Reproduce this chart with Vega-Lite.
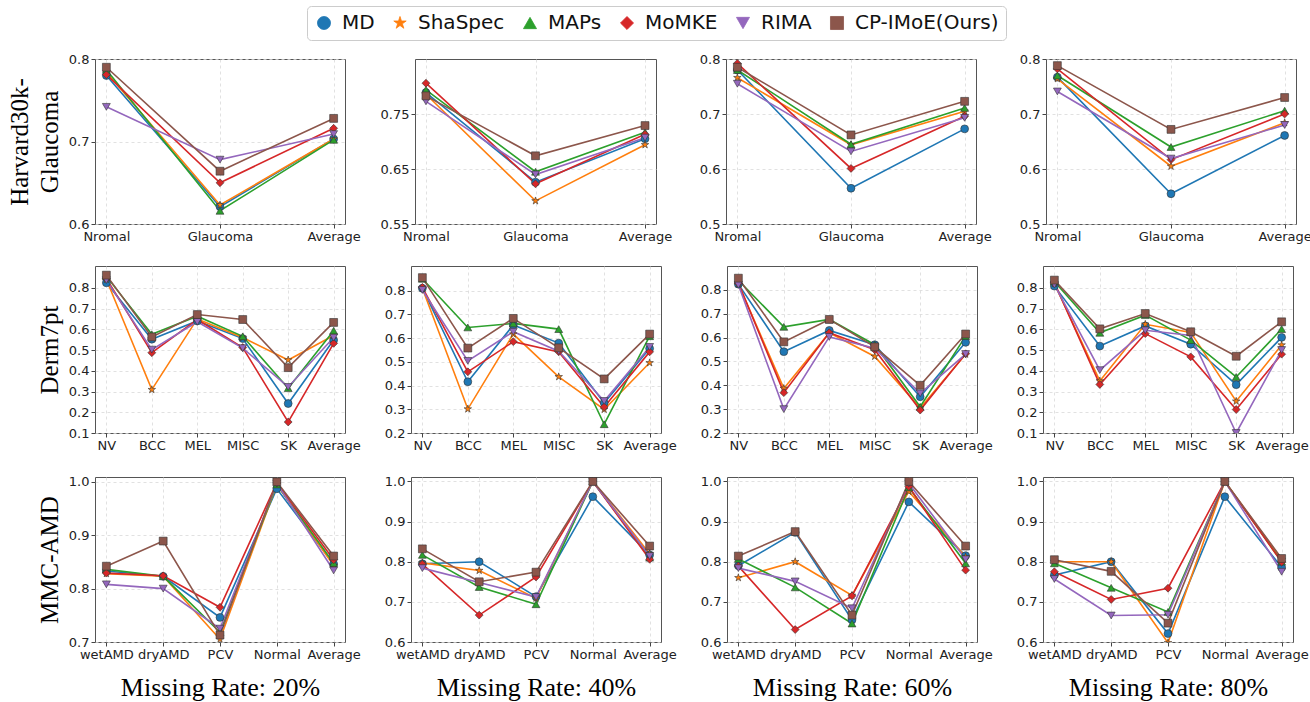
{
"$schema":"https://vega.github.io/schema/vega-lite/v6.json",
"background":"white",
"padding":{"left":6,"top":5,"right":6,"bottom":6},
"datasets":{
"H20":[
{"m":"MD","c":"Nromal","v":0.780},{"m":"MD","c":"Glaucoma","v":0.621},{"m":"MD","c":"Average","v":0.703},
{"m":"ShaSpec","c":"Nromal","v":0.784},{"m":"ShaSpec","c":"Glaucoma","v":0.623},{"m":"ShaSpec","c":"Average","v":0.703},
{"m":"MAPs","c":"Nromal","v":0.787},{"m":"MAPs","c":"Glaucoma","v":0.616},{"m":"MAPs","c":"Average","v":0.702},
{"m":"MoMKE","c":"Nromal","v":0.781},{"m":"MoMKE","c":"Glaucoma","v":0.650},{"m":"MoMKE","c":"Average","v":0.716},
{"m":"RIMA","c":"Nromal","v":0.742},{"m":"RIMA","c":"Glaucoma","v":0.678},{"m":"RIMA","c":"Average","v":0.709},
{"m":"CP-IMoE(Ours)","c":"Nromal","v":0.790},{"m":"CP-IMoE(Ours)","c":"Glaucoma","v":0.664},{"m":"CP-IMoE(Ours)","c":"Average","v":0.728}],
"H40":[
{"m":"MD","c":"Nromal","v":0.789},{"m":"MD","c":"Glaucoma","v":0.626},{"m":"MD","c":"Average","v":0.705},
{"m":"ShaSpec","c":"Nromal","v":0.786},{"m":"ShaSpec","c":"Glaucoma","v":0.592},{"m":"ShaSpec","c":"Average","v":0.694},
{"m":"MAPs","c":"Nromal","v":0.794},{"m":"MAPs","c":"Glaucoma","v":0.645},{"m":"MAPs","c":"Average","v":0.717},
{"m":"MoMKE","c":"Nromal","v":0.806},{"m":"MoMKE","c":"Glaucoma","v":0.623},{"m":"MoMKE","c":"Average","v":0.713},
{"m":"RIMA","c":"Nromal","v":0.773},{"m":"RIMA","c":"Glaucoma","v":0.640},{"m":"RIMA","c":"Average","v":0.707},
{"m":"CP-IMoE(Ours)","c":"Nromal","v":0.783},{"m":"CP-IMoE(Ours)","c":"Glaucoma","v":0.674},{"m":"CP-IMoE(Ours)","c":"Average","v":0.729}],
"H60":[
{"m":"MD","c":"Nromal","v":0.780},{"m":"MD","c":"Glaucoma","v":0.565},{"m":"MD","c":"Average","v":0.673},
{"m":"ShaSpec","c":"Nromal","v":0.766},{"m":"ShaSpec","c":"Glaucoma","v":0.644},{"m":"ShaSpec","c":"Average","v":0.705},
{"m":"MAPs","c":"Nromal","v":0.780},{"m":"MAPs","c":"Glaucoma","v":0.645},{"m":"MAPs","c":"Average","v":0.711},
{"m":"MoMKE","c":"Nromal","v":0.792},{"m":"MoMKE","c":"Glaucoma","v":0.601},{"m":"MoMKE","c":"Average","v":0.696},
{"m":"RIMA","c":"Nromal","v":0.755},{"m":"RIMA","c":"Glaucoma","v":0.632},{"m":"RIMA","c":"Average","v":0.693},
{"m":"CP-IMoE(Ours)","c":"Nromal","v":0.785},{"m":"CP-IMoE(Ours)","c":"Glaucoma","v":0.662},{"m":"CP-IMoE(Ours)","c":"Average","v":0.723}],
"H80":[
{"m":"MD","c":"Nromal","v":0.767},{"m":"MD","c":"Glaucoma","v":0.555},{"m":"MD","c":"Average","v":0.661},
{"m":"ShaSpec","c":"Nromal","v":0.764},{"m":"ShaSpec","c":"Glaucoma","v":0.605},{"m":"ShaSpec","c":"Average","v":0.684},
{"m":"MAPs","c":"Nromal","v":0.770},{"m":"MAPs","c":"Glaucoma","v":0.640},{"m":"MAPs","c":"Average","v":0.706},
{"m":"MoMKE","c":"Nromal","v":0.782},{"m":"MoMKE","c":"Glaucoma","v":0.617},{"m":"MoMKE","c":"Average","v":0.700},
{"m":"RIMA","c":"Nromal","v":0.741},{"m":"RIMA","c":"Glaucoma","v":0.619},{"m":"RIMA","c":"Average","v":0.680},
{"m":"CP-IMoE(Ours)","c":"Nromal","v":0.788},{"m":"CP-IMoE(Ours)","c":"Glaucoma","v":0.672},{"m":"CP-IMoE(Ours)","c":"Average","v":0.730}],
"D20":[
{"m":"MD","c":"NV","v":0.824},{"m":"MD","c":"BCC","v":0.552},{"m":"MD","c":"MEL","v":0.640},{"m":"MD","c":"MISC","v":0.555},{"m":"MD","c":"SK","v":0.242},{"m":"MD","c":"Average","v":0.548},
{"m":"ShaSpec","c":"NV","v":0.840},{"m":"ShaSpec","c":"BCC","v":0.309},{"m":"ShaSpec","c":"MEL","v":0.650},{"m":"ShaSpec","c":"MISC","v":0.560},{"m":"ShaSpec","c":"SK","v":0.452},{"m":"ShaSpec","c":"Average","v":0.570},
{"m":"MAPs","c":"NV","v":0.855},{"m":"MAPs","c":"BCC","v":0.576},{"m":"MAPs","c":"MEL","v":0.663},{"m":"MAPs","c":"MISC","v":0.566},{"m":"MAPs","c":"SK","v":0.316},{"m":"MAPs","c":"Average","v":0.593},
{"m":"MoMKE","c":"NV","v":0.845},{"m":"MoMKE","c":"BCC","v":0.487},{"m":"MoMKE","c":"MEL","v":0.647},{"m":"MoMKE","c":"MISC","v":0.512},{"m":"MoMKE","c":"SK","v":0.153},{"m":"MoMKE","c":"Average","v":0.532},
{"m":"RIMA","c":"NV","v":0.837},{"m":"RIMA","c":"BCC","v":0.502},{"m":"RIMA","c":"MEL","v":0.636},{"m":"RIMA","c":"MISC","v":0.509},{"m":"RIMA","c":"SK","v":0.322},{"m":"RIMA","c":"Average","v":0.560},
{"m":"CP-IMoE(Ours)","c":"NV","v":0.861},{"m":"CP-IMoE(Ours)","c":"BCC","v":0.563},{"m":"CP-IMoE(Ours)","c":"MEL","v":0.671},{"m":"CP-IMoE(Ours)","c":"MISC","v":0.647},{"m":"CP-IMoE(Ours)","c":"SK","v":0.415},{"m":"CP-IMoE(Ours)","c":"Average","v":0.633}],
"D40":[
{"m":"MD","c":"NV","v":0.810},{"m":"MD","c":"BCC","v":0.416},{"m":"MD","c":"MEL","v":0.655},{"m":"MD","c":"MISC","v":0.579},{"m":"MD","c":"SK","v":0.327},{"m":"MD","c":"Average","v":0.556},
{"m":"ShaSpec","c":"NV","v":0.810},{"m":"ShaSpec","c":"BCC","v":0.301},{"m":"ShaSpec","c":"MEL","v":0.617},{"m":"ShaSpec","c":"MISC","v":0.437},{"m":"ShaSpec","c":"SK","v":0.299},{"m":"ShaSpec","c":"Average","v":0.496},
{"m":"MAPs","c":"NV","v":0.850},{"m":"MAPs","c":"BCC","v":0.645},{"m":"MAPs","c":"MEL","v":0.662},{"m":"MAPs","c":"MISC","v":0.638},{"m":"MAPs","c":"SK","v":0.237},{"m":"MAPs","c":"Average","v":0.608},
{"m":"MoMKE","c":"NV","v":0.814},{"m":"MoMKE","c":"BCC","v":0.458},{"m":"MoMKE","c":"MEL","v":0.585},{"m":"MoMKE","c":"MISC","v":0.542},{"m":"MoMKE","c":"SK","v":0.310},{"m":"MoMKE","c":"Average","v":0.542},
{"m":"RIMA","c":"NV","v":0.803},{"m":"RIMA","c":"BCC","v":0.504},{"m":"RIMA","c":"MEL","v":0.627},{"m":"RIMA","c":"MISC","v":0.545},{"m":"RIMA","c":"SK","v":0.335},{"m":"RIMA","c":"Average","v":0.563},
{"m":"CP-IMoE(Ours)","c":"NV","v":0.855},{"m":"CP-IMoE(Ours)","c":"BCC","v":0.558},{"m":"CP-IMoE(Ours)","c":"MEL","v":0.683},{"m":"CP-IMoE(Ours)","c":"MISC","v":0.559},{"m":"CP-IMoE(Ours)","c":"SK","v":0.428},{"m":"CP-IMoE(Ours)","c":"Average","v":0.617}],
"D60":[
{"m":"MD","c":"NV","v":0.824},{"m":"MD","c":"BCC","v":0.541},{"m":"MD","c":"MEL","v":0.630},{"m":"MD","c":"MISC","v":0.570},{"m":"MD","c":"SK","v":0.352},{"m":"MD","c":"Average","v":0.580},
{"m":"ShaSpec","c":"NV","v":0.825},{"m":"ShaSpec","c":"BCC","v":0.387},{"m":"ShaSpec","c":"MEL","v":0.620},{"m":"ShaSpec","c":"MISC","v":0.521},{"m":"ShaSpec","c":"SK","v":0.305},{"m":"ShaSpec","c":"Average","v":0.530},
{"m":"MAPs","c":"NV","v":0.840},{"m":"MAPs","c":"BCC","v":0.645},{"m":"MAPs","c":"MEL","v":0.676},{"m":"MAPs","c":"MISC","v":0.570},{"m":"MAPs","c":"SK","v":0.310},{"m":"MAPs","c":"Average","v":0.606},
{"m":"MoMKE","c":"NV","v":0.828},{"m":"MoMKE","c":"BCC","v":0.369},{"m":"MoMKE","c":"MEL","v":0.620},{"m":"MoMKE","c":"MISC","v":0.549},{"m":"MoMKE","c":"SK","v":0.296},{"m":"MoMKE","c":"Average","v":0.532},
{"m":"RIMA","c":"NV","v":0.821},{"m":"RIMA","c":"BCC","v":0.300},{"m":"RIMA","c":"MEL","v":0.603},{"m":"RIMA","c":"MISC","v":0.555},{"m":"RIMA","c":"SK","v":0.366},{"m":"RIMA","c":"Average","v":0.531},
{"m":"CP-IMoE(Ours)","c":"NV","v":0.849},{"m":"CP-IMoE(Ours)","c":"BCC","v":0.582},{"m":"CP-IMoE(Ours)","c":"MEL","v":0.676},{"m":"CP-IMoE(Ours)","c":"MISC","v":0.561},{"m":"CP-IMoE(Ours)","c":"SK","v":0.400},{"m":"CP-IMoE(Ours)","c":"Average","v":0.615}],
"D80":[
{"m":"MD","c":"NV","v":0.808},{"m":"MD","c":"BCC","v":0.519},{"m":"MD","c":"MEL","v":0.616},{"m":"MD","c":"MISC","v":0.528},{"m":"MD","c":"SK","v":0.333},{"m":"MD","c":"Average","v":0.561},
{"m":"ShaSpec","c":"NV","v":0.820},{"m":"ShaSpec","c":"BCC","v":0.351},{"m":"ShaSpec","c":"MEL","v":0.624},{"m":"ShaSpec","c":"MISC","v":0.585},{"m":"ShaSpec","c":"SK","v":0.253},{"m":"ShaSpec","c":"Average","v":0.524},
{"m":"MAPs","c":"NV","v":0.830},{"m":"MAPs","c":"BCC","v":0.583},{"m":"MAPs","c":"MEL","v":0.668},{"m":"MAPs","c":"MISC","v":0.548},{"m":"MAPs","c":"SK","v":0.370},{"m":"MAPs","c":"Average","v":0.601},
{"m":"MoMKE","c":"NV","v":0.825},{"m":"MoMKE","c":"BCC","v":0.334},{"m":"MoMKE","c":"MEL","v":0.579},{"m":"MoMKE","c":"MISC","v":0.467},{"m":"MoMKE","c":"SK","v":0.213},{"m":"MoMKE","c":"Average","v":0.480},
{"m":"RIMA","c":"NV","v":0.815},{"m":"RIMA","c":"BCC","v":0.403},{"m":"RIMA","c":"MEL","v":0.595},{"m":"RIMA","c":"MISC","v":0.570},{"m":"RIMA","c":"SK","v":0.100},{"m":"RIMA","c":"Average","v":0.500},
{"m":"CP-IMoE(Ours)","c":"NV","v":0.837},{"m":"CP-IMoE(Ours)","c":"BCC","v":0.602},{"m":"CP-IMoE(Ours)","c":"MEL","v":0.676},{"m":"CP-IMoE(Ours)","c":"MISC","v":0.588},{"m":"CP-IMoE(Ours)","c":"SK","v":0.470},{"m":"CP-IMoE(Ours)","c":"Average","v":0.636}],
"M20":[
{"m":"MD","c":"wetAMD","v":0.833},{"m":"MD","c":"dryAMD","v":0.823},{"m":"MD","c":"PCV","v":0.746},{"m":"MD","c":"Normal","v":0.987},{"m":"MD","c":"Average","v":0.846},
{"m":"ShaSpec","c":"wetAMD","v":0.828},{"m":"ShaSpec","c":"dryAMD","v":0.823},{"m":"ShaSpec","c":"PCV","v":0.705},{"m":"ShaSpec","c":"Normal","v":0.995},{"m":"ShaSpec","c":"Average","v":0.843},
{"m":"MAPs","c":"wetAMD","v":0.836},{"m":"MAPs","c":"dryAMD","v":0.823},{"m":"MAPs","c":"PCV","v":0.718},{"m":"MAPs","c":"Normal","v":0.995},{"m":"MAPs","c":"Average","v":0.848},
{"m":"MoMKE","c":"wetAMD","v":0.829},{"m":"MoMKE","c":"dryAMD","v":0.824},{"m":"MoMKE","c":"PCV","v":0.765},{"m":"MoMKE","c":"Normal","v":0.998},{"m":"MoMKE","c":"Average","v":0.854},
{"m":"RIMA","c":"wetAMD","v":0.808},{"m":"RIMA","c":"dryAMD","v":0.800},{"m":"RIMA","c":"PCV","v":0.725},{"m":"RIMA","c":"Normal","v":0.997},{"m":"RIMA","c":"Average","v":0.834},
{"m":"CP-IMoE(Ours)","c":"wetAMD","v":0.842},{"m":"CP-IMoE(Ours)","c":"dryAMD","v":0.889},{"m":"CP-IMoE(Ours)","c":"PCV","v":0.713},{"m":"CP-IMoE(Ours)","c":"Normal","v":1.0},{"m":"CP-IMoE(Ours)","c":"Average","v":0.861}],
"M40":[
{"m":"MD","c":"wetAMD","v":0.795},{"m":"MD","c":"dryAMD","v":0.800},{"m":"MD","c":"PCV","v":0.713},{"m":"MD","c":"Normal","v":0.962},{"m":"MD","c":"Average","v":0.817},
{"m":"ShaSpec","c":"wetAMD","v":0.797},{"m":"ShaSpec","c":"dryAMD","v":0.778},{"m":"ShaSpec","c":"PCV","v":0.709},{"m":"ShaSpec","c":"Normal","v":1.0},{"m":"ShaSpec","c":"Average","v":0.820},
{"m":"MAPs","c":"wetAMD","v":0.817},{"m":"MAPs","c":"dryAMD","v":0.737},{"m":"MAPs","c":"PCV","v":0.694},{"m":"MAPs","c":"Normal","v":1.0},{"m":"MAPs","c":"Average","v":0.810},
{"m":"MoMKE","c":"wetAMD","v":0.794},{"m":"MoMKE","c":"dryAMD","v":0.667},{"m":"MoMKE","c":"PCV","v":0.762},{"m":"MoMKE","c":"Normal","v":1.0},{"m":"MoMKE","c":"Average","v":0.806},
{"m":"RIMA","c":"wetAMD","v":0.784},{"m":"RIMA","c":"dryAMD","v":0.748},{"m":"RIMA","c":"PCV","v":0.712},{"m":"RIMA","c":"Normal","v":1.0},{"m":"RIMA","c":"Average","v":0.814},
{"m":"CP-IMoE(Ours)","c":"wetAMD","v":0.832},{"m":"CP-IMoE(Ours)","c":"dryAMD","v":0.750},{"m":"CP-IMoE(Ours)","c":"PCV","v":0.774},{"m":"CP-IMoE(Ours)","c":"Normal","v":1.0},{"m":"CP-IMoE(Ours)","c":"Average","v":0.839}],
"M60":[
{"m":"MD","c":"wetAMD","v":0.790},{"m":"MD","c":"dryAMD","v":0.873},{"m":"MD","c":"PCV","v":0.655},{"m":"MD","c":"Normal","v":0.949},{"m":"MD","c":"Average","v":0.815},
{"m":"ShaSpec","c":"wetAMD","v":0.760},{"m":"ShaSpec","c":"dryAMD","v":0.800},{"m":"ShaSpec","c":"PCV","v":0.716},{"m":"ShaSpec","c":"Normal","v":0.975},{"m":"ShaSpec","c":"Average","v":0.812},
{"m":"MAPs","c":"wetAMD","v":0.807},{"m":"MAPs","c":"dryAMD","v":0.736},{"m":"MAPs","c":"PCV","v":0.646},{"m":"MAPs","c":"Normal","v":0.985},{"m":"MAPs","c":"Average","v":0.796},
{"m":"MoMKE","c":"wetAMD","v":0.789},{"m":"MoMKE","c":"dryAMD","v":0.631},{"m":"MoMKE","c":"PCV","v":0.715},{"m":"MoMKE","c":"Normal","v":0.987},{"m":"MoMKE","c":"Average","v":0.779},
{"m":"RIMA","c":"wetAMD","v":0.784},{"m":"RIMA","c":"dryAMD","v":0.751},{"m":"RIMA","c":"PCV","v":0.684},{"m":"RIMA","c":"Normal","v":0.995},{"m":"RIMA","c":"Average","v":0.806},
{"m":"CP-IMoE(Ours)","c":"wetAMD","v":0.814},{"m":"CP-IMoE(Ours)","c":"dryAMD","v":0.875},{"m":"CP-IMoE(Ours)","c":"PCV","v":0.667},{"m":"CP-IMoE(Ours)","c":"Normal","v":1.0},{"m":"CP-IMoE(Ours)","c":"Average","v":0.839}],
"M80":[
{"m":"MD","c":"wetAMD","v":0.767},{"m":"MD","c":"dryAMD","v":0.800},{"m":"MD","c":"PCV","v":0.621},{"m":"MD","c":"Normal","v":0.962},{"m":"MD","c":"Average","v":0.786},
{"m":"ShaSpec","c":"wetAMD","v":0.800},{"m":"ShaSpec","c":"dryAMD","v":0.800},{"m":"ShaSpec","c":"PCV","v":0.598},{"m":"ShaSpec","c":"Normal","v":1.0},{"m":"ShaSpec","c":"Average","v":0.805},
{"m":"MAPs","c":"wetAMD","v":0.796},{"m":"MAPs","c":"dryAMD","v":0.735},{"m":"MAPs","c":"PCV","v":0.675},{"m":"MAPs","c":"Normal","v":1.0},{"m":"MAPs","c":"Average","v":0.800},
{"m":"MoMKE","c":"wetAMD","v":0.775},{"m":"MoMKE","c":"dryAMD","v":0.706},{"m":"MoMKE","c":"PCV","v":0.734},{"m":"MoMKE","c":"Normal","v":1.0},{"m":"MoMKE","c":"Average","v":0.799},
{"m":"RIMA","c":"wetAMD","v":0.757},{"m":"RIMA","c":"dryAMD","v":0.666},{"m":"RIMA","c":"PCV","v":0.668},{"m":"RIMA","c":"Normal","v":1.0},{"m":"RIMA","c":"Average","v":0.775},
{"m":"CP-IMoE(Ours)","c":"wetAMD","v":0.805},{"m":"CP-IMoE(Ours)","c":"dryAMD","v":0.776},{"m":"CP-IMoE(Ours)","c":"PCV","v":0.647},{"m":"CP-IMoE(Ours)","c":"Normal","v":1.0},{"m":"CP-IMoE(Ours)","c":"Average","v":0.808}]
},
"spacing":21,
"vconcat":[
{"bounds":"flush","spacing":70,"hconcat":[
{"width":250,"height":165,"data":{"name":"H20"},
"encoding":{"x":{"field":"c","type":"ordinal","sort":["Nromal","Glaucoma","Average"],"scale":{"type":"point","padding":0.1},"axis":{"title":null}},
"y":{"field":"v","type":"quantitative","scale":{"domain":[0.6,0.8],"nice":false,"zero":false},"axis":{"values":[0.6,0.7,0.8],"format":".1f","title":["Harvard30k-","Glaucoma"]}},
"color":{"field":"m","type":"nominal","scale":{"domain":["MD","ShaSpec","MAPs","MoMKE","RIMA","CP-IMoE(Ours)"],"range":["#1f77b4","#ff7f0e","#2ca02c","#d62728","#9467bd","#8c564b"]},"legend":{"title":null}}},
"layer":[{"mark":{"type":"line","strokeWidth":1.6,"clip":true},"encoding":{"order":{"value":null}}},
{"mark":{"type":"point","filled":true,"size":62,"stroke":"#333","strokeWidth":0.6,"opacity":1,"clip":true},"encoding":{"shape":{"field":"m","type":"nominal","scale":{"domain":["MD","ShaSpec","MAPs","MoMKE","RIMA","CP-IMoE(Ours)"],"range":["circle","M0,-1L0.225,-0.309L0.951,-0.309L0.363,0.118L0.588,0.809L0,0.382L-0.588,0.809L-0.363,0.118L-0.951,-0.309L-0.225,-0.309Z","triangle-up","diamond","triangle-down","square"]},"legend":{"title":null}}}}]},
{"width":241,"height":165,"data":{"name":"H40"},
"encoding":{"x":{"field":"c","type":"ordinal","sort":["Nromal","Glaucoma","Average"],"scale":{"type":"point","padding":0.1},"axis":{"title":null}},
"y":{"field":"v","type":"quantitative","scale":{"domain":[0.55,0.85],"nice":false,"zero":false},"axis":{"values":[0.55,0.65,0.75],"format":".2f","title":null}},
"color":{"field":"m","type":"nominal","scale":{"domain":["MD","ShaSpec","MAPs","MoMKE","RIMA","CP-IMoE(Ours)"],"range":["#1f77b4","#ff7f0e","#2ca02c","#d62728","#9467bd","#8c564b"]},"legend":{"title":null}}},
"layer":[{"mark":{"type":"line","strokeWidth":1.6,"clip":true},"encoding":{"order":{"value":null}}},
{"mark":{"type":"point","filled":true,"size":62,"stroke":"#333","strokeWidth":0.6,"opacity":1,"clip":true},"encoding":{"shape":{"field":"m","type":"nominal","scale":{"domain":["MD","ShaSpec","MAPs","MoMKE","RIMA","CP-IMoE(Ours)"],"range":["circle","M0,-1L0.225,-0.309L0.951,-0.309L0.363,0.118L0.588,0.809L0,0.382L-0.588,0.809L-0.363,0.118L-0.951,-0.309L-0.225,-0.309Z","triangle-up","diamond","triangle-down","square"]},"legend":{"title":null}}}}]},
{"width":250,"height":165,"data":{"name":"H60"},
"encoding":{"x":{"field":"c","type":"ordinal","sort":["Nromal","Glaucoma","Average"],"scale":{"type":"point","padding":0.1},"axis":{"title":null}},
"y":{"field":"v","type":"quantitative","scale":{"domain":[0.5,0.8],"nice":false,"zero":false},"axis":{"values":[0.5,0.6,0.7,0.8],"format":".1f","title":null}},
"color":{"field":"m","type":"nominal","scale":{"domain":["MD","ShaSpec","MAPs","MoMKE","RIMA","CP-IMoE(Ours)"],"range":["#1f77b4","#ff7f0e","#2ca02c","#d62728","#9467bd","#8c564b"]},"legend":{"title":null}}},
"layer":[{"mark":{"type":"line","strokeWidth":1.6,"clip":true},"encoding":{"order":{"value":null}}},
{"mark":{"type":"point","filled":true,"size":62,"stroke":"#333","strokeWidth":0.6,"opacity":1,"clip":true},"encoding":{"shape":{"field":"m","type":"nominal","scale":{"domain":["MD","ShaSpec","MAPs","MoMKE","RIMA","CP-IMoE(Ours)"],"range":["circle","M0,-1L0.225,-0.309L0.951,-0.309L0.363,0.118L0.588,0.809L0,0.382L-0.588,0.809L-0.363,0.118L-0.951,-0.309L-0.225,-0.309Z","triangle-up","diamond","triangle-down","square"]},"legend":{"title":null}}}}]},
{"width":250,"height":165,"data":{"name":"H80"},
"encoding":{"x":{"field":"c","type":"ordinal","sort":["Nromal","Glaucoma","Average"],"scale":{"type":"point","padding":0.1},"axis":{"title":null}},
"y":{"field":"v","type":"quantitative","scale":{"domain":[0.5,0.8],"nice":false,"zero":false},"axis":{"values":[0.5,0.6,0.7,0.8],"format":".1f","title":null}},
"color":{"field":"m","type":"nominal","scale":{"domain":["MD","ShaSpec","MAPs","MoMKE","RIMA","CP-IMoE(Ours)"],"range":["#1f77b4","#ff7f0e","#2ca02c","#d62728","#9467bd","#8c564b"]},"legend":{"title":null}}},
"layer":[{"mark":{"type":"line","strokeWidth":1.6,"clip":true},"encoding":{"order":{"value":null}}},
{"mark":{"type":"point","filled":true,"size":62,"stroke":"#333","strokeWidth":0.6,"opacity":1,"clip":true},"encoding":{"shape":{"field":"m","type":"nominal","scale":{"domain":["MD","ShaSpec","MAPs","MoMKE","RIMA","CP-IMoE(Ours)"],"range":["circle","M0,-1L0.225,-0.309L0.951,-0.309L0.363,0.118L0.588,0.809L0,0.382L-0.588,0.809L-0.363,0.118L-0.951,-0.309L-0.225,-0.309Z","triangle-up","diamond","triangle-down","square"]},"legend":{"title":null}}}}]}
]},
{"bounds":"flush","spacing":66,"hconcat":[
{"width":250,"height":167,"data":{"name":"D20"},
"encoding":{"x":{"field":"c","type":"ordinal","sort":["NV","BCC","MEL","MISC","SK","Average"],"scale":{"type":"point","padding":0.25},"axis":{"title":null}},
"y":{"field":"v","type":"quantitative","scale":{"domain":[0.1,0.905],"nice":false,"zero":false},"axis":{"values":[0.1,0.2,0.3,0.4,0.5,0.6,0.7,0.8],"format":".1f","title":"Derm7pt"}},
"color":{"field":"m","type":"nominal","scale":{"domain":["MD","ShaSpec","MAPs","MoMKE","RIMA","CP-IMoE(Ours)"],"range":["#1f77b4","#ff7f0e","#2ca02c","#d62728","#9467bd","#8c564b"]},"legend":{"title":null}}},
"layer":[{"mark":{"type":"line","strokeWidth":1.6,"clip":true},"encoding":{"order":{"value":null}}},
{"mark":{"type":"point","filled":true,"size":62,"stroke":"#333","strokeWidth":0.6,"opacity":1,"clip":true},"encoding":{"shape":{"field":"m","type":"nominal","scale":{"domain":["MD","ShaSpec","MAPs","MoMKE","RIMA","CP-IMoE(Ours)"],"range":["circle","M0,-1L0.225,-0.309L0.951,-0.309L0.363,0.118L0.588,0.809L0,0.382L-0.588,0.809L-0.363,0.118L-0.951,-0.309L-0.225,-0.309Z","triangle-up","diamond","triangle-down","square"]},"legend":{"title":null}}}}]},
{"width":250,"height":167,"data":{"name":"D40"},
"encoding":{"x":{"field":"c","type":"ordinal","sort":["NV","BCC","MEL","MISC","SK","Average"],"scale":{"type":"point","padding":0.25},"axis":{"title":null}},
"y":{"field":"v","type":"quantitative","scale":{"domain":[0.2,0.904],"nice":false,"zero":false},"axis":{"values":[0.2,0.3,0.4,0.5,0.6,0.7,0.8],"format":".1f","title":null}},
"color":{"field":"m","type":"nominal","scale":{"domain":["MD","ShaSpec","MAPs","MoMKE","RIMA","CP-IMoE(Ours)"],"range":["#1f77b4","#ff7f0e","#2ca02c","#d62728","#9467bd","#8c564b"]},"legend":{"title":null}}},
"layer":[{"mark":{"type":"line","strokeWidth":1.6,"clip":true},"encoding":{"order":{"value":null}}},
{"mark":{"type":"point","filled":true,"size":62,"stroke":"#333","strokeWidth":0.6,"opacity":1,"clip":true},"encoding":{"shape":{"field":"m","type":"nominal","scale":{"domain":["MD","ShaSpec","MAPs","MoMKE","RIMA","CP-IMoE(Ours)"],"range":["circle","M0,-1L0.225,-0.309L0.951,-0.309L0.363,0.118L0.588,0.809L0,0.382L-0.588,0.809L-0.363,0.118L-0.951,-0.309L-0.225,-0.309Z","triangle-up","diamond","triangle-down","square"]},"legend":{"title":null}}}}]},
{"width":250,"height":167,"data":{"name":"D60"},
"encoding":{"x":{"field":"c","type":"ordinal","sort":["NV","BCC","MEL","MISC","SK","Average"],"scale":{"type":"point","padding":0.25},"axis":{"title":null}},
"y":{"field":"v","type":"quantitative","scale":{"domain":[0.2,0.9],"nice":false,"zero":false},"axis":{"values":[0.2,0.3,0.4,0.5,0.6,0.7,0.8],"format":".1f","title":null}},
"color":{"field":"m","type":"nominal","scale":{"domain":["MD","ShaSpec","MAPs","MoMKE","RIMA","CP-IMoE(Ours)"],"range":["#1f77b4","#ff7f0e","#2ca02c","#d62728","#9467bd","#8c564b"]},"legend":{"title":null}}},
"layer":[{"mark":{"type":"line","strokeWidth":1.6,"clip":true},"encoding":{"order":{"value":null}}},
{"mark":{"type":"point","filled":true,"size":62,"stroke":"#333","strokeWidth":0.6,"opacity":1,"clip":true},"encoding":{"shape":{"field":"m","type":"nominal","scale":{"domain":["MD","ShaSpec","MAPs","MoMKE","RIMA","CP-IMoE(Ours)"],"range":["circle","M0,-1L0.225,-0.309L0.951,-0.309L0.363,0.118L0.588,0.809L0,0.382L-0.588,0.809L-0.363,0.118L-0.951,-0.309L-0.225,-0.309Z","triangle-up","diamond","triangle-down","square"]},"legend":{"title":null}}}}]},
{"width":250,"height":167,"data":{"name":"D80"},
"encoding":{"x":{"field":"c","type":"ordinal","sort":["NV","BCC","MEL","MISC","SK","Average"],"scale":{"type":"point","padding":0.25},"axis":{"title":null}},
"y":{"field":"v","type":"quantitative","scale":{"domain":[0.1,0.905],"nice":false,"zero":false},"axis":{"values":[0.1,0.2,0.3,0.4,0.5,0.6,0.7,0.8],"format":".1f","title":null}},
"color":{"field":"m","type":"nominal","scale":{"domain":["MD","ShaSpec","MAPs","MoMKE","RIMA","CP-IMoE(Ours)"],"range":["#1f77b4","#ff7f0e","#2ca02c","#d62728","#9467bd","#8c564b"]},"legend":{"title":null}}},
"layer":[{"mark":{"type":"line","strokeWidth":1.6,"clip":true},"encoding":{"order":{"value":null}}},
{"mark":{"type":"point","filled":true,"size":62,"stroke":"#333","strokeWidth":0.6,"opacity":1,"clip":true},"encoding":{"shape":{"field":"m","type":"nominal","scale":{"domain":["MD","ShaSpec","MAPs","MoMKE","RIMA","CP-IMoE(Ours)"],"range":["circle","M0,-1L0.225,-0.309L0.951,-0.309L0.363,0.118L0.588,0.809L0,0.382L-0.588,0.809L-0.363,0.118L-0.951,-0.309L-0.225,-0.309Z","triangle-up","diamond","triangle-down","square"]},"legend":{"title":null}}}}]}
]},
{"bounds":"flush","spacing":66,"hconcat":[
{"width":250,"height":165,"data":{"name":"M20"},
"encoding":{"x":{"field":"c","type":"ordinal","sort":["wetAMD","dryAMD","PCV","Normal","Average"],"scale":{"type":"point","padding":0.2},"axis":{"title":"Missing Rate: 20%"}},
"y":{"field":"v","type":"quantitative","scale":{"domain":[0.7,1.009],"nice":false,"zero":false},"axis":{"values":[0.7,0.8,0.9,1.0],"format":".1f","title":"MMC-AMD"}},
"color":{"field":"m","type":"nominal","scale":{"domain":["MD","ShaSpec","MAPs","MoMKE","RIMA","CP-IMoE(Ours)"],"range":["#1f77b4","#ff7f0e","#2ca02c","#d62728","#9467bd","#8c564b"]},"legend":{"title":null}}},
"layer":[{"mark":{"type":"line","strokeWidth":1.6,"clip":true},"encoding":{"order":{"value":null}}},
{"mark":{"type":"point","filled":true,"size":62,"stroke":"#333","strokeWidth":0.6,"opacity":1,"clip":true},"encoding":{"shape":{"field":"m","type":"nominal","scale":{"domain":["MD","ShaSpec","MAPs","MoMKE","RIMA","CP-IMoE(Ours)"],"range":["circle","M0,-1L0.225,-0.309L0.951,-0.309L0.363,0.118L0.588,0.809L0,0.382L-0.588,0.809L-0.363,0.118L-0.951,-0.309L-0.225,-0.309Z","triangle-up","diamond","triangle-down","square"]},"legend":{"title":null}}}}]},
{"width":250,"height":165,"data":{"name":"M40"},
"encoding":{"x":{"field":"c","type":"ordinal","sort":["wetAMD","dryAMD","PCV","Normal","Average"],"scale":{"type":"point","padding":0.2},"axis":{"title":"Missing Rate: 40%"}},
"y":{"field":"v","type":"quantitative","scale":{"domain":[0.6,1.011],"nice":false,"zero":false},"axis":{"values":[0.6,0.7,0.8,0.9,1.0],"format":".1f","title":null}},
"color":{"field":"m","type":"nominal","scale":{"domain":["MD","ShaSpec","MAPs","MoMKE","RIMA","CP-IMoE(Ours)"],"range":["#1f77b4","#ff7f0e","#2ca02c","#d62728","#9467bd","#8c564b"]},"legend":{"title":null}}},
"layer":[{"mark":{"type":"line","strokeWidth":1.6,"clip":true},"encoding":{"order":{"value":null}}},
{"mark":{"type":"point","filled":true,"size":62,"stroke":"#333","strokeWidth":0.6,"opacity":1,"clip":true},"encoding":{"shape":{"field":"m","type":"nominal","scale":{"domain":["MD","ShaSpec","MAPs","MoMKE","RIMA","CP-IMoE(Ours)"],"range":["circle","M0,-1L0.225,-0.309L0.951,-0.309L0.363,0.118L0.588,0.809L0,0.382L-0.588,0.809L-0.363,0.118L-0.951,-0.309L-0.225,-0.309Z","triangle-up","diamond","triangle-down","square"]},"legend":{"title":null}}}}]},
{"width":250,"height":165,"data":{"name":"M60"},
"encoding":{"x":{"field":"c","type":"ordinal","sort":["wetAMD","dryAMD","PCV","Normal","Average"],"scale":{"type":"point","padding":0.2},"axis":{"title":"Missing Rate: 60%"}},
"y":{"field":"v","type":"quantitative","scale":{"domain":[0.6,1.011],"nice":false,"zero":false},"axis":{"values":[0.6,0.7,0.8,0.9,1.0],"format":".1f","title":null}},
"color":{"field":"m","type":"nominal","scale":{"domain":["MD","ShaSpec","MAPs","MoMKE","RIMA","CP-IMoE(Ours)"],"range":["#1f77b4","#ff7f0e","#2ca02c","#d62728","#9467bd","#8c564b"]},"legend":{"title":null}}},
"layer":[{"mark":{"type":"line","strokeWidth":1.6,"clip":true},"encoding":{"order":{"value":null}}},
{"mark":{"type":"point","filled":true,"size":62,"stroke":"#333","strokeWidth":0.6,"opacity":1,"clip":true},"encoding":{"shape":{"field":"m","type":"nominal","scale":{"domain":["MD","ShaSpec","MAPs","MoMKE","RIMA","CP-IMoE(Ours)"],"range":["circle","M0,-1L0.225,-0.309L0.951,-0.309L0.363,0.118L0.588,0.809L0,0.382L-0.588,0.809L-0.363,0.118L-0.951,-0.309L-0.225,-0.309Z","triangle-up","diamond","triangle-down","square"]},"legend":{"title":null}}}}]},
{"width":250,"height":165,"data":{"name":"M80"},
"encoding":{"x":{"field":"c","type":"ordinal","sort":["wetAMD","dryAMD","PCV","Normal","Average"],"scale":{"type":"point","padding":0.2},"axis":{"title":"Missing Rate: 80%"}},
"y":{"field":"v","type":"quantitative","scale":{"domain":[0.6,1.011],"nice":false,"zero":false},"axis":{"values":[0.6,0.7,0.8,0.9,1.0],"format":".1f","title":null}},
"color":{"field":"m","type":"nominal","scale":{"domain":["MD","ShaSpec","MAPs","MoMKE","RIMA","CP-IMoE(Ours)"],"range":["#1f77b4","#ff7f0e","#2ca02c","#d62728","#9467bd","#8c564b"]},"legend":{"title":null}}},
"layer":[{"mark":{"type":"line","strokeWidth":1.6,"clip":true},"encoding":{"order":{"value":null}}},
{"mark":{"type":"point","filled":true,"size":62,"stroke":"#333","strokeWidth":0.6,"opacity":1,"clip":true},"encoding":{"shape":{"field":"m","type":"nominal","scale":{"domain":["MD","ShaSpec","MAPs","MoMKE","RIMA","CP-IMoE(Ours)"],"range":["circle","M0,-1L0.225,-0.309L0.951,-0.309L0.363,0.118L0.588,0.809L0,0.382L-0.588,0.809L-0.363,0.118L-0.951,-0.309L-0.225,-0.309Z","triangle-up","diamond","triangle-down","square"]},"legend":{"title":null}}}}]}
]}
],
"config":{
"view":{"stroke":"#555","strokeWidth":1},
"axis":{"labelFont":"DejaVu Sans","labelFontSize":13,"labelColor":"#222","tickColor":"#444","tickSize":4,"domain":false,"grid":true,"gridColor":"#d9d9d9","gridDash":[3,3],"gridWidth":0.8,"titleFont":"Liberation Serif","titleFontSize":25,"titleFontWeight":"normal","titleColor":"#000","labelOverlap":false},
"axisX":{"labelAngle":0,"labelPadding":2,"titleFontSize":26,"titlePadding":13},
"axisY":{"labelFontSize":13,"titleLineHeight":30,"titlePadding":6},
"legend":{"orient":"none","legendX":212,"legendY":-53,"direction":"horizontal","columns":6,"labelFont":"DejaVu Sans","labelFontSize":20,"labelColor":"#111","symbolSize":170,"symbolStrokeWidth":0.8,"symbolStrokeColor":"#333","strokeColor":"#ccc","fillColor":"white","cornerRadius":4,"padding":7,"columnPadding":15,"labelOffset":8,"labelLimit":300}
}
}
